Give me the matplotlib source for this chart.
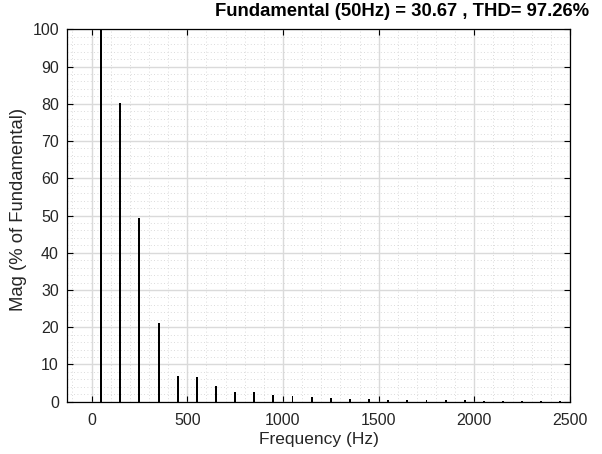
import matplotlib
matplotlib.use("Agg")
import matplotlib.pyplot as plt
from matplotlib.ticker import MultipleLocator

plt.rcParams['font.family'] = ['Liberation Sans', 'DejaVu Sans']

freqs = [50, 150, 250, 350, 450, 550, 650, 750, 850, 950, 1050, 1150, 1250,
         1350, 1450, 1550, 1650, 1750, 1850, 1950, 2050, 2150, 2250, 2350, 2450]
mags = [100, 80.2, 49.4, 21.2, 6.9, 6.6, 4.3, 2.7, 2.7, 1.8, 1.45, 1.2, 0.9,
        0.85, 0.7, 0.55, 0.5, 0.4, 0.35, 0.35, 0.3, 0.25, 0.25, 0.25, 0.25]
xticks = [0, 500, 1000, 1500, 2000, 2500]
yticks = [0, 10, 20, 30, 40, 50, 60, 70, 80, 90, 100]
title = "Fundamental (50Hz) = 30.67 , THD= 97.26%"

fig = plt.figure(figsize=(6.02, 4.54), dpi=100)
ax = fig.add_axes([67.3/602, 1-401.7/454, (570-67.3)/602, (401.7-29.3)/454])

ax.bar(freqs, mags, width=10, color='black', zorder=3)

ax.set_xlim(-127, 2500)
ax.set_ylim(0, 100)
ax.set_xticks(xticks)
ax.set_yticks(yticks)
ax.xaxis.set_minor_locator(MultipleLocator(100))
ax.yaxis.set_minor_locator(MultipleLocator(2))

ax.grid(which='major', color='#dadada', linewidth=1.0, linestyle='-', zorder=0)
ax.grid(which='minor', color='#cfcfcf', linewidth=0.6, linestyle=(0, (1, 3)), zorder=0)
ax.set_axisbelow(True)

ax.tick_params(which='major', direction='in', length=4.3, width=0.8,
               top=True, right=True, labelsize=11.5, colors='black')
ax.tick_params(axis='x', which='major', pad=8)
ax.tick_params(axis='y', which='major', pad=6)
ax.tick_params(which='minor', length=0, top=True, right=True)
for sp in ax.spines.values():
    sp.set_linewidth(0.9)
    sp.set_color('black')

ax.set_xlabel("Frequency (Hz)", fontsize=12.5, color='#262626', labelpad=3)
ax.set_ylabel("Mag (% of Fundamental)", fontsize=13.3, color='#262626')
ax.yaxis.set_label_coords((27 - 67.3) / (570 - 67.3), (401.7 - 209) / (401.7 - 29.3))
fig.text(402/602, 1-12/454, title, fontsize=13.3, fontweight='bold',
         ha='center', va='center', color='black')
for lab in ax.get_xticklabels() + ax.get_yticklabels():
    lab.set_color('#262626')

fig.savefig("out.png", dpi=100)
